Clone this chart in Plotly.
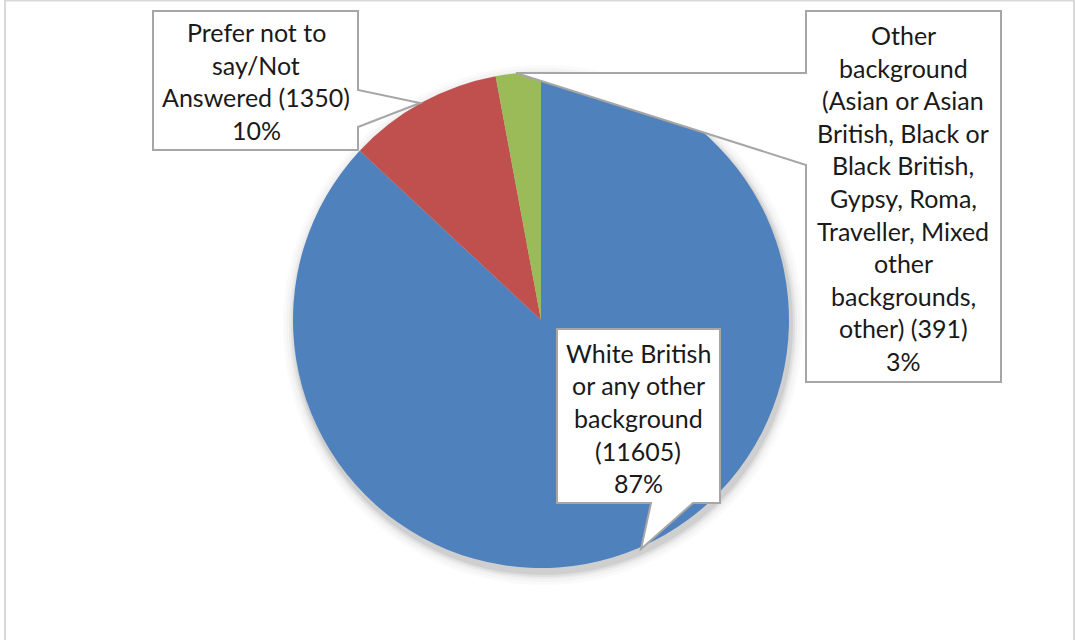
import plotly.graph_objects as go

# ---- data ----
categories = ["White British or any other background",
              "Prefer not to say/Not Answered",
              "Other background (Asian or Asian British, Black or Black British, Gypsy, Roma, Traveller, Mixed other backgrounds, other)"]
values = [11605, 1350, 391]
colors = ["#4F81BD", "#C0504D", "#9BBB59"]

label_white = ["White British", "or any other", "background", "(11605)", "87%"]
label_prefer = ["Prefer not to", "say/Not", "Answered (1350)", "10%"]
label_other = ["Other", "background", "(Asian or Asian", "British, Black or", "Black British,",
               "Gypsy, Roma,", "Traveller, Mixed", "other", "backgrounds,", "other) (391)", "3%"]

W, H = 1075, 640


def px(x):
    return x / W


def py(y):
    return 1 - y / H


def path(pts):
    return "M " + " L ".join(f"{px(x):.5f},{py(y):.5f}" for x, y in pts) + " Z"


CX, CY, R = 541, 320, 248

fig = go.Figure(go.Pie(
    labels=categories, values=values, sort=False, direction="clockwise", rotation=0,
    marker=dict(colors=colors, line=dict(width=0)),
    textinfo="none", hoverinfo="label+value+percent", showlegend=False,
    domain=dict(x=[px(CX - R), px(CX + R)], y=[py(CY + R), py(CY - R)]),
))

shapes = []
# outer chart frame
shapes.append(dict(type="rect", xref="paper", yref="paper",
                   x0=px(5), x1=px(1074), y0=py(660), y1=py(0.5),
                   line=dict(color="#d9d9d9", width=2), layer="below"))
# soft shadow of the pie
for k, a in [(12, 0.018), (9, 0.025), (6, 0.035), (4, 0.05), (2, 0.07)]:
    sx, sy = CX + 2, CY + 5
    shapes.append(dict(type="circle", xref="paper", yref="paper",
                       x0=px(sx - R - k), x1=px(sx + R + k), y0=py(sy + R + k), y1=py(sy - R - k),
                       fillcolor=f"rgba(0,0,0,{a})", line=dict(width=0), layer="below"))

callout_style = dict(type="path", xref="paper", yref="paper", fillcolor="white",
                     line=dict(color="#a6a6a6", width=2), layer="above")
shapes.append(dict(callout_style, path=path([(153, 11), (358, 11), (358, 90), (420, 103),
                                             (358, 127), (358, 150), (153, 150)])))
shapes.append(dict(callout_style, path=path([(806, 11), (1001, 11), (1001, 382), (806, 382),
                                             (806, 165), (516, 73), (806, 73)])))
shapes.append(dict(callout_style, path=path([(557, 329), (720, 329), (720, 503), (693, 503),
                                             (641, 549), (651, 503), (557, 503)])))

annotations = []
LS = 32.6


def add_lines(lines, cx, cy_center):
    n = len(lines)
    for i, t in enumerate(lines):
        y = cy_center + (i - (n - 1) / 2) * LS
        annotations.append(dict(text=t, x=px(cx), y=py(y), xref="paper", yref="paper",
                                showarrow=False, xanchor="center", yanchor="middle",
                                font=dict(family="Lato", size=25, color="#1a1a1a")))


add_lines(label_prefer, 256, 81)
add_lines(label_other, 903, 198)
add_lines(label_white, 638, 418)

fig.update_layout(width=W, height=H, margin=dict(l=0, r=0, t=0, b=0),
                  paper_bgcolor="white", plot_bgcolor="white",
                  shapes=shapes, annotations=annotations)

fig.write_html("out.html", config={"displayModeBar": False},
               post_script="document.body.style.margin='0px';document.body.style.overflow='hidden';")
